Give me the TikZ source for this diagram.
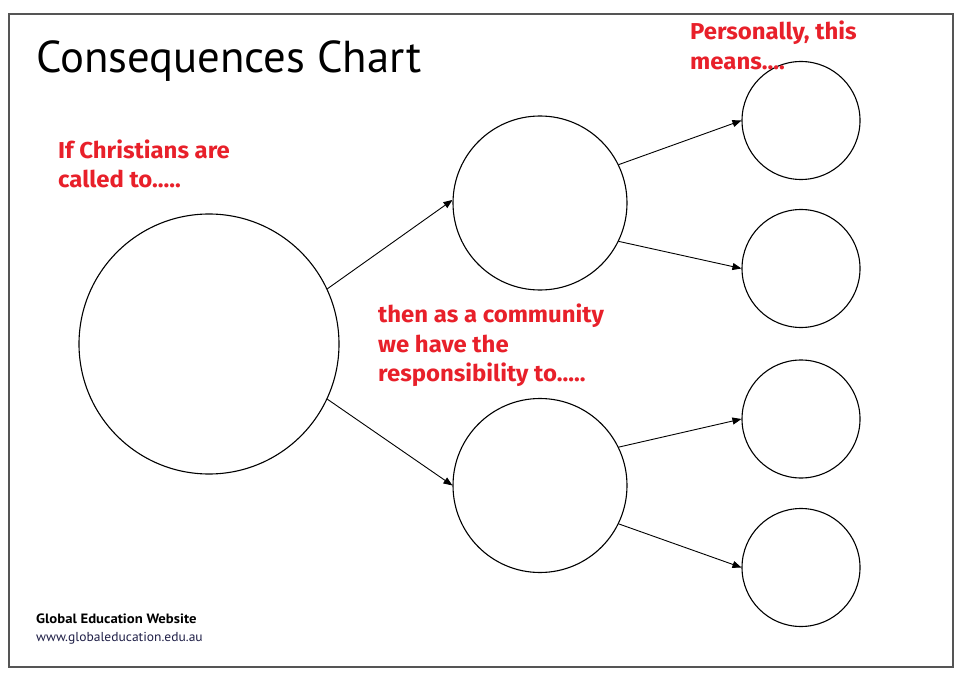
\documentclass[tikz,border=0pt]{standalone}
\usepackage{fontspec}
\setmainfont{PT Sans}
\newfontfamily\redfont{Fira Sans}
\usetikzlibrary{arrows.meta}
\definecolor{redtxt}{HTML}{E8202A}
\definecolor{framegray}{HTML}{555555}
\definecolor{urlblue}{HTML}{1E1E46}
\newcommand\redtext[1]{\scalebox{1.04}[1]{#1}}
\tikzset{
  bubble/.style={circle, draw=black, line width=1.1pt, inner sep=0pt},
  conn/.style={draw=black, line width=0.9pt, -{Triangle[length=9pt,width=7pt]}},
  redline/.style={anchor=base west, inner sep=0pt, text=redtxt, font=\redfont\bfseries\fontsize{23}{27}\selectfont},
}
\begin{document}
\begin{tikzpicture}[x=1pt,y=-1pt]
\useasboundingbox (0,0) rectangle (960,676);
\fill[white] (0,0) rectangle (960,676);
\draw[framegray, line width=1.6pt] (9,14) rectangle (953,667);

% title
\node[anchor=base west, inner sep=0pt, font=\fontsize{44.7}{52}\selectfont] (title) at (36,73) {Consequences Chart};

% circles
\node[bubble, minimum size=260pt] (big) at (209,344) {};
\node[bubble, minimum size=174pt] (mt) at (540,203) {};
\node[bubble, minimum size=174pt] (mb) at (540,485.5) {};
\node[bubble, minimum size=118pt] (s1) at (801,120.5) {};
\node[bubble, minimum size=118pt] (s2) at (801,268.5) {};
\node[bubble, minimum size=118pt] (s3) at (801,419) {};
\node[bubble, minimum size=118pt] (s4) at (801,567.5) {};

% connectors
\draw[conn] (big.25.6) -- (mt.178);
\draw[conn] (big.-25.6) -- (mb.west);
\draw[conn] (mt.26.8) -- (s1.west);
\draw[conn] (mt.-26) -- (s2.west);
\draw[conn] (mb.26.6) -- (s3.west);
\draw[conn] (mb.-26.6) -- (s4.west);

% red texts
\node[redline] (r1a) at (58,159) {\redtext{If Christians are}};
\node[redline] (r1b) at (58,188) {\redtext{called to.....}};
\node[redline] (r2a) at (378,322) {\redtext{then as a community}};
\node[redline] (r2b) at (378,352) {\redtext{we have the}};
\node[redline] (r2c) at (378,381) {\redtext{responsibility to.....}};
\node[redline] (r3a) at (690,40) {\redtext{Personally, this}};
\node[redline] (r3b) at (690,70) {\redtext{means....}};

% footer
\node[anchor=base west, inner sep=0pt, font=\bfseries\fontsize{13.5}{16}\selectfont] (ft1) at (36,623) {\scalebox{1.09}[1]{Global Education Website}};
\node[anchor=base west, inner sep=0pt, text=urlblue, font=\fontsize{13}{16}\selectfont] (ft2) at (36,641) {\scalebox{1.04}[1]{www.globaleducation.edu.au}};
\end{tikzpicture}
\end{document}
